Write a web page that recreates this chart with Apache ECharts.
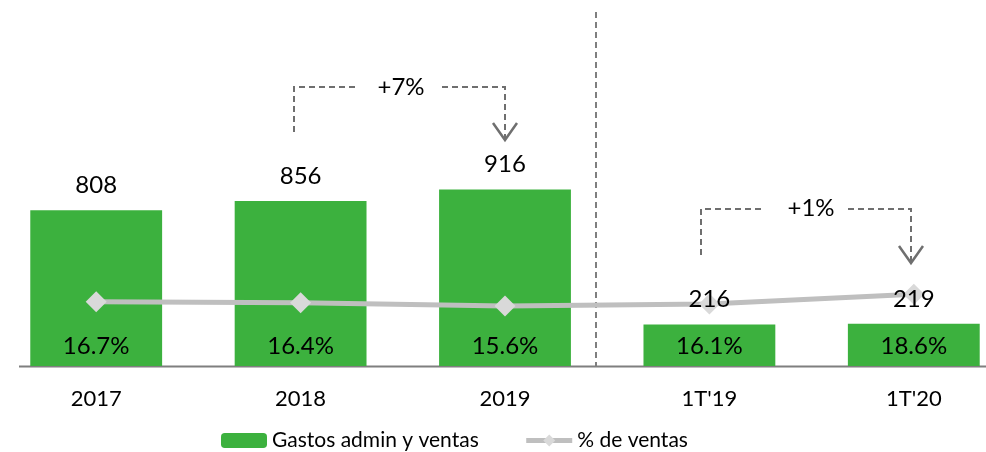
<!DOCTYPE html>
<html>
<head>
<meta charset="utf-8">
<script src="https://cdn.jsdelivr.net/npm/echarts@6/dist/echarts.min.js"></script>
<style>
  html, body { margin: 0; padding: 0; background: #fff; }
  #chart { width: 986px; height: 452px; }
</style>
</head>
<body>
<div id="chart"></div>
<script>
// datos
var categories = ['2017', '2018', '2019', "1T'19", "1T'20"];
var gastos = [808, 856, 916, 216, 219];
var pctVentas = [16.7, 16.4, 15.6, 16.1, 18.6];

var fontFam = 'Lato, "Open Sans", sans-serif';
var dashGray = '#6f6f6f';

var myChart = echarts.init(document.getElementById('chart'));

var option = {
    animation: false,
    textStyle: { fontFamily: fontFam },
    grid: { left: -6, top: 0, width: 1022, height: 366, outerBoundsMode: 'none', containLabel: false },
    legend: {
        left: 216,
        top: 425,
        itemWidth: 46,
        itemHeight: 15,
        itemGap: 45,
        textStyle: { fontSize: 21, color: '#000', fontFamily: fontFam },
        data: [
            { name: 'Gastos admin y ventas' },
            { name: '% de ventas', lineStyle: { width: 5 } }
        ]
    },
    xAxis: {
        type: 'category',
        data: categories,
        axisTick: { show: false },
        axisLine: { show: false },
        axisLabel: { fontSize: 22, color: '#000', margin: 22 }
    },
    yAxis: [
        { type: 'value', min: 0, max: 1900, show: false, splitLine: { show: false } },
        { type: 'value', min: 0, max: 95, show: false, splitLine: { show: false } }
    ],
    series: [
        {
            name: 'Gastos admin y ventas',
            type: 'bar',
            barWidth: '64.5%',
            data: gastos,
            itemStyle: { color: '#3cb13e' },
            label: {
                show: true,
                position: 'insideBottom',
                distance: 8,
                fontSize: 24,
                color: '#000',
                formatter: function (p) {
                    return pctVentas[p.dataIndex].toFixed(1) + '%';
                }
            }
        },
        {
            // etiquetas de valor encima de la línea
            name: 'valor_label',
            type: 'bar',
            barWidth: '64.5%',
            barGap: '-100%',
            data: gastos,
            silent: true,
            z: 5,
            itemStyle: { color: 'rgba(0,0,0,0)' },
            label: {
                show: true,
                position: 'top',
                distance: 13,
                fontSize: 24,
                color: '#000'
            }
        },
        {
            name: '% de ventas',
            type: 'line',
            yAxisIndex: 1,
            data: pctVentas,
            symbol: 'diamond',
            symbolSize: 21,
            itemStyle: { color: '#d9d9d9' },
            lineStyle: { color: '#bfbfbf', width: 5 },
            z: 3
        }
    ],
    graphic: [
        // eje x
        { type: 'line', shape: { x1: 19, y1: 366.5, x2: 986, y2: 366.5 }, style: { stroke: '#7f7f7f', lineWidth: 2 } },
        // separador
        { type: 'line', shape: { x1: 596, y1: 12, x2: 596, y2: 366 }, style: { stroke: '#7f7f7f', lineWidth: 2, lineDash: [6, 4] } },
        // +7%
        { type: 'polyline', shape: { points: [[294, 132], [294, 87], [357, 87]] }, style: { stroke: dashGray, lineWidth: 2, lineDash: [6, 4], fill: null } },
        { type: 'polyline', shape: { points: [[442, 87], [505, 87], [505, 138]] }, style: { stroke: dashGray, lineWidth: 2, lineDash: [6, 4], fill: null } },
        { type: 'polyline', shape: { points: [[493, 123], [505, 140], [517, 123]] }, style: { stroke: dashGray, lineWidth: 2.5, fill: null } },
        { type: 'text', x: 401, y: 87, style: { text: '+7%', fontSize: 24, fontFamily: fontFam, fill: '#000', align: 'center', verticalAlign: 'middle' } },
        // +1%
        { type: 'polyline', shape: { points: [[701, 255], [701, 209], [763, 209]] }, style: { stroke: dashGray, lineWidth: 2, lineDash: [6, 4], fill: null } },
        { type: 'polyline', shape: { points: [[848, 209], [911, 209], [911, 261]] }, style: { stroke: dashGray, lineWidth: 2, lineDash: [6, 4], fill: null } },
        { type: 'polyline', shape: { points: [[899, 246], [911, 263], [923, 246]] }, style: { stroke: dashGray, lineWidth: 2.5, fill: null } },
        { type: 'text', x: 811, y: 208, style: { text: '+1%', fontSize: 24, fontFamily: fontFam, fill: '#000', align: 'center', verticalAlign: 'middle' } }
    ]
};

myChart.setOption(option);
</script>
</body>
</html>
